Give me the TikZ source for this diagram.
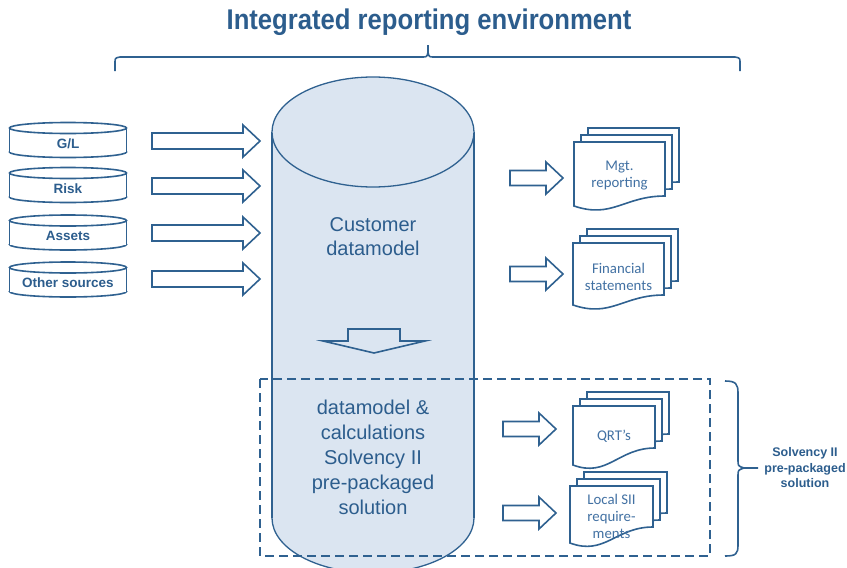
\documentclass[tikz,border=0pt]{standalone}
\usepackage{fontspec}
\setmainfont{Liberation Sans}
\newfontfamily\titlefont[FakeStretch=0.9]{Liberation Sans}
\newfontfamily\docfont{Carlito}

\definecolor{lineblue}{HTML}{2F6190}
\definecolor{textblue}{HTML}{2C5D8D}
\definecolor{doctext}{HTML}{4271A3}
\definecolor{cylfill}{HTML}{DBE5F1}

% one page of a document stack: top-left corner, width, right and left heights
\newcommand\pagepath[5]{(#1,#2) -- (#1+#3,#2) -- (#1+#3,#2+#4)
  .. controls (#1+0.55*#3,#2+#4) and (#1+0.42*#3,#2+#5+13) .. (#1,#2+#5) -- cycle}

% name, x, y (front page top-left), width, right height, left height, text y, text
\newcommand\DocStack[8]{%
  \filldraw[docpage] \pagepath{#2+14}{#3-14}{#4}{#5}{#6};
  \filldraw[docpage] \pagepath{#2+7}{#3-7}{#4}{#5}{#6};
  \filldraw[docpage] \pagepath{#2}{#3}{#4}{#5}{#6};
  \node[doclabel] (#1) at (#2+0.5*#4,#3+#7) {#8};
}

\tikzset{
  blue line/.style={draw=lineblue, line width=1.6pt},
  blockarrow/.style={blue line, fill=white, line join=miter},
  docpage/.style={draw=lineblue, line width=1.6pt, fill=white},
  doclabel/.style={text=doctext, font=\docfont\fontsize{14.8}{17}\selectfont, align=center, inner sep=0pt},
  srclabel/.style={text=textblue, font=\bfseries\fontsize{13.5}{16}\selectfont, inner sep=0pt},
  cyllabel/.style={text=textblue, font=\fontsize{20}{24.5}\selectfont, align=center, inner sep=0pt},
  inarrow/.pic={\draw[blockarrow] (0,-8) -- (91,-8) -- (91,-16) -- (108,0) -- (91,16) -- (91,8) -- (0,8) -- cycle;},
  outarrow/.pic={\draw[blockarrow] (0,-7.5) -- (36,-7.5) -- (36,-16) -- (53,0) -- (36,16) -- (36,7.5) -- (0,7.5) -- cycle;},
  dbcyl/.pic={
    \filldraw[blue line, fill=white] (0,12) ellipse [x radius=58.5, y radius=5.5];
    \fill[white] (-58.5,-12) rectangle (58.5,12);
    \draw[blue line] (-58.5,-12) -- (-58.5,12) (58.5,-12) -- (58.5,12);
    \filldraw[blue line, fill=white] (0,-12) ellipse [x radius=58.5, y radius=5.5];
    \node[srclabel] (-label) at (0,3.5) {#1};
  },
}

\begin{document}
\begin{tikzpicture}[x=1pt, y=-1pt]
\useasboundingbox (0,0) rectangle (847,568);
\clip (0,0) rectangle (847,568);

% title and its brace
\node[text=textblue, font=\titlefont\bfseries\fontsize{28.5}{32}\selectfont, inner sep=0pt] (title) at (429,22) {Integrated reporting environment};
\draw[lineblue, line width=1.6pt, line join=round]
  (115,71) -- (115,63) .. controls (115,58) .. (120,57) -- (422,57)
  .. controls (427,57) .. (428,52) -- (428,45)
  (428,52) .. controls (429,57) .. (434,57) -- (735,57)
  .. controls (740,58) .. (740,63) -- (740,71);

% source databases
\pic (gl) at (68,140) {dbcyl={G/L}};
\pic (risk) at (68,185) {dbcyl={Risk}};
\pic (assets) at (68,232.5) {dbcyl={Assets}};
\pic (other) at (68,279.5) {dbcyl={Other sources}};

% feeds into the data model
\pic (feedA) at (152,141) {inarrow};
\pic (feedB) at (152,186) {inarrow};
\pic (feedC) at (152,233) {inarrow};
\pic (feedD) at (152,279) {inarrow};

% central data model cylinder
\filldraw[draw=lineblue, line width=1.3pt, fill=cylfill] (373,518) ellipse [x radius=101, y radius=55];
\fill[cylfill] (272,132) rectangle (474,518);
\draw[lineblue, line width=1.3pt] (272,132) -- (272,518) (474,132) -- (474,518);
\filldraw[draw=lineblue, line width=1.3pt, fill=cylfill] (373,132) ellipse [x radius=101, y radius=55];

\node[cyllabel] (custdm) at (373,236.5) {Customer\\datamodel};
\draw[blue line, fill=cylfill, line join=miter]
  (348,329) -- (400,329) -- (400,341) -- (425,341) -- (374,353) -- (323,341) -- (348,341) -- cycle;
\node[cyllabel, font=\fontsize{20}{25}\selectfont] (siidm) at (373,457)
  {datamodel \&\\calculations\\Solvency II\\pre-packaged\\solution};

% reports
\pic (outA) at (510,178) {outarrow};
\pic (outB) at (510,274) {outarrow};
\pic (outC) at (503,429) {outarrow};
\pic (outD) at (503,513) {outarrow};

\DocStack{mgt}{574}{142}{91}{54}{64}{34}{Mgt.\\reporting}
\DocStack{fin}{573}{243}{91}{52}{62}{34}{Financial\\statements}
\DocStack{qrt}{573}{406}{82}{42}{59}{30}{QRT’s}
\DocStack{local}{570}{486}{83}{41}{57}{30}{Local SII\\require-\\ments}

% Solvency II package boundary
\draw[lineblue, line width=2.8pt, dash pattern=on 9pt off 5pt] (260,379) rectangle (710,556);
\draw[lineblue, line width=1.6pt, line join=round]
  (725,381) .. controls (736,381) and (738,384) .. (738,393) -- (738,460)
  .. controls (738,466) .. (744,468) .. controls (738,470) .. (738,476) -- (738,545)
  .. controls (738,554) and (736,556) .. (725,556)
  (744,468) -- (758,468);
\node[srclabel, font=\bfseries\fontsize{12.5}{15.5}\selectfont, align=center] (siilabel) at (805,468)
  {Solvency II\\pre-packaged\\solution};
\end{tikzpicture}
\end{document}
